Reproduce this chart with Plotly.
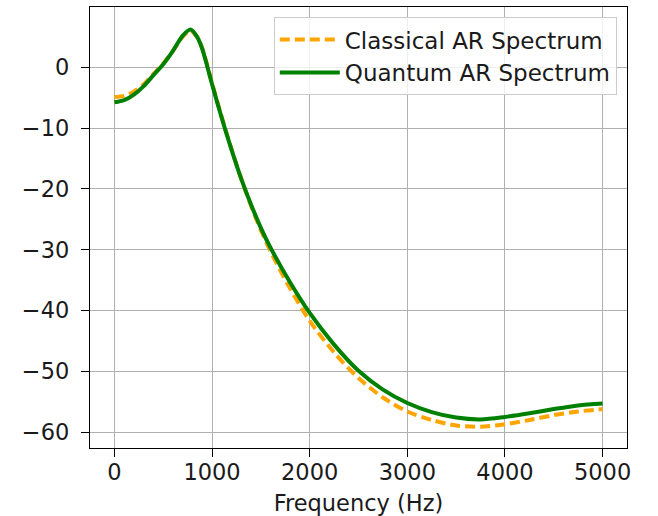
import plotly.graph_objects as go

freq_hz = [0, 100, 200, 300, 400, 500, 600, 700, 780, 850, 900, 950, 1000, 1100, 1200,
           1300, 1400, 1500, 1600, 1800, 2000, 2250, 2500, 2750, 3000, 3250, 3500, 3750,
           4000, 4250, 4500, 4750, 5000]

classical_db = [-4.9, -4.7, -4.0, -2.8, -1.1, 0.6, 2.7, 5.0, 6.0, 4.9, 3.1, 0.4, -2.6, -8.2,
                -13.5, -18.4, -22.8, -26.8, -30.3, -36.4, -41.7, -46.9, -51.1, -54.3, -56.6,
                -58.0, -58.9, -59.1, -58.7, -58.0, -57.2, -56.6, -56.2]

quantum_db = [-5.75, -5.4, -4.5, -3.1, -1.3, 0.5, 2.7, 5.2, 6.2, 4.9, 3.0, 0.2, -2.8, -8.4,
              -13.6, -18.4, -22.6, -26.4, -29.7, -35.4, -40.4, -45.6, -49.9, -53.0, -55.2,
              -56.7, -57.6, -57.9, -57.5, -56.9, -56.2, -55.6, -55.3]

x_ticks = [0, 1000, 2000, 3000, 4000, 5000]
y_ticks = [0, -10, -20, -30, -40, -50, -60]

FONT = "DejaVu Sans"
FS = 22.5

fig = go.Figure()
fig.add_trace(go.Scatter(
    x=freq_hz, y=classical_db, mode="lines", name="Classical AR Spectrum",
    line=dict(color="#FFA500", width=4, dash="10px,5px", shape="spline", smoothing=0.8),
))
fig.add_trace(go.Scatter(
    x=freq_hz, y=quantum_db, mode="lines", name="Quantum AR Spectrum",
    line=dict(color="#008000", width=4, shape="spline", smoothing=0.8),
))

axis_common = dict(
    showline=True, linecolor="black", linewidth=1.3, mirror=True,
    showgrid=True, gridcolor="#b0b0b0", gridwidth=1.3,
    ticks="outside", ticklen=8, tickwidth=1.3, tickcolor="black",
    zeroline=False, automargin=False,
    tickfont=dict(family=FONT, size=FS, color="#1a1a1a"),
)

fig.update_xaxes(range=[-250, 5250], tickvals=x_ticks, ticklabelstandoff=-4,
                 title=dict(text="Frequency (Hz)", font=dict(family=FONT, size=FS, color="#1a1a1a"), standoff=13),
                 **axis_common)
fig.update_yaxes(range=[-62.6, 9.9], tickvals=y_ticks, ticklabelstandoff=7, **axis_common)

fig.update_layout(
    width=658, height=516,
    margin=dict(l=90, r=31, t=7, b=68, pad=0, autoexpand=False),
    paper_bgcolor="white", plot_bgcolor="white",
    font=dict(family=FONT, size=FS, color="#1a1a1a"),
    showlegend=True,
    legend=dict(x=0.981, y=0.977, xanchor="right", yanchor="top",
                bgcolor="rgba(255,255,255,0.8)", bordercolor="#cccccc", borderwidth=1,
                itemwidth=60,
                font=dict(family=FONT, size=23, color="#1a1a1a")),
)

fig.write_html("out.html")
